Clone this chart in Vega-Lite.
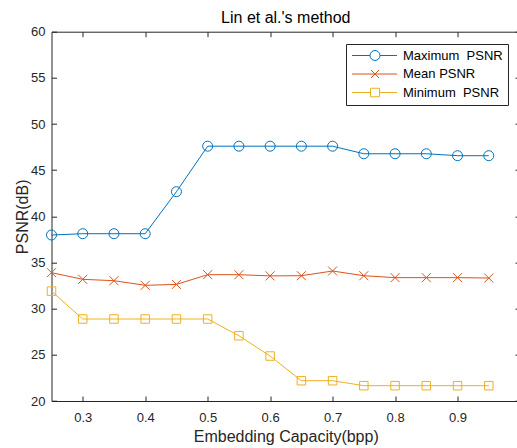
{
  "$schema": "https://vega.github.io/schema/vega-lite/v6.json",
  "autosize": "none",
  "width": 468.5,
  "height": 369.3,
  "padding": {"left": 51.5, "top": 31.7, "right": -3, "bottom": 47},
  "background": "white",
  "title": {"text": "Lin et al.'s method", "font": "Liberation Sans", "fontSize": 16, "fontWeight": "normal", "color": "#000000", "anchor": "middle", "frame": "group", "baseline": "alphabetic", "offset": 7.5, "dy": 21},
  "config": {
    "view": {"stroke": null},
    "axis": {"grid": false, "domainColor": "#262626", "domainWidth": 1, "tickColor": "#262626", "tickWidth": 1, "tickSize": -5, "labelColor": "#262626", "labelFont": "Liberation Sans", "labelFontSize": 13, "titleFont": "Liberation Sans", "titleFontSize": 16, "titleFontWeight": "normal", "titleColor": "#262626"}
  },
  "data": {"values": [
    {"x": 0.25, "s": "Maximum\u00a0 PSNR", "v": 37.98},
    {"x": 0.30, "s": "Maximum\u00a0 PSNR", "v": 38.12},
    {"x": 0.35, "s": "Maximum\u00a0 PSNR", "v": 38.12},
    {"x": 0.40, "s": "Maximum\u00a0 PSNR", "v": 38.12},
    {"x": 0.45, "s": "Maximum\u00a0 PSNR", "v": 42.67},
    {"x": 0.50, "s": "Maximum\u00a0 PSNR", "v": 47.6},
    {"x": 0.55, "s": "Maximum\u00a0 PSNR", "v": 47.6},
    {"x": 0.60, "s": "Maximum\u00a0 PSNR", "v": 47.6},
    {"x": 0.65, "s": "Maximum\u00a0 PSNR", "v": 47.6},
    {"x": 0.70, "s": "Maximum\u00a0 PSNR", "v": 47.6},
    {"x": 0.75, "s": "Maximum\u00a0 PSNR", "v": 46.78},
    {"x": 0.80, "s": "Maximum\u00a0 PSNR", "v": 46.78},
    {"x": 0.85, "s": "Maximum\u00a0 PSNR", "v": 46.78},
    {"x": 0.90, "s": "Maximum\u00a0 PSNR", "v": 46.57},
    {"x": 0.95, "s": "Maximum\u00a0 PSNR", "v": 46.57},
    {"x": 0.25, "s": "Mean PSNR", "v": 33.9},
    {"x": 0.30, "s": "Mean PSNR", "v": 33.18},
    {"x": 0.35, "s": "Mean PSNR", "v": 33.03},
    {"x": 0.40, "s": "Mean PSNR", "v": 32.53},
    {"x": 0.45, "s": "Mean PSNR", "v": 32.63},
    {"x": 0.50, "s": "Mean PSNR", "v": 33.68},
    {"x": 0.55, "s": "Mean PSNR", "v": 33.68},
    {"x": 0.60, "s": "Mean PSNR", "v": 33.55},
    {"x": 0.65, "s": "Mean PSNR", "v": 33.57},
    {"x": 0.70, "s": "Mean PSNR", "v": 34.08},
    {"x": 0.75, "s": "Mean PSNR", "v": 33.57},
    {"x": 0.80, "s": "Mean PSNR", "v": 33.36},
    {"x": 0.85, "s": "Mean PSNR", "v": 33.36},
    {"x": 0.90, "s": "Mean PSNR", "v": 33.36},
    {"x": 0.95, "s": "Mean PSNR", "v": 33.32},
    {"x": 0.25, "s": "Minimum\u00a0 PSNR", "v": 31.9},
    {"x": 0.30, "s": "Minimum\u00a0 PSNR", "v": 28.88},
    {"x": 0.35, "s": "Minimum\u00a0 PSNR", "v": 28.88},
    {"x": 0.40, "s": "Minimum\u00a0 PSNR", "v": 28.88},
    {"x": 0.45, "s": "Minimum\u00a0 PSNR", "v": 28.88},
    {"x": 0.50, "s": "Minimum\u00a0 PSNR", "v": 28.88},
    {"x": 0.55, "s": "Minimum\u00a0 PSNR", "v": 27.07},
    {"x": 0.60, "s": "Minimum\u00a0 PSNR", "v": 24.87},
    {"x": 0.65, "s": "Minimum\u00a0 PSNR", "v": 22.2},
    {"x": 0.70, "s": "Minimum\u00a0 PSNR", "v": 22.2},
    {"x": 0.75, "s": "Minimum\u00a0 PSNR", "v": 21.66},
    {"x": 0.80, "s": "Minimum\u00a0 PSNR", "v": 21.66},
    {"x": 0.85, "s": "Minimum\u00a0 PSNR", "v": 21.66},
    {"x": 0.90, "s": "Minimum\u00a0 PSNR", "v": 21.66},
    {"x": 0.95, "s": "Minimum\u00a0 PSNR", "v": 21.66}
  ]},
  "resolve": {"axis": {"x": "independent", "y": "independent"}},
  "layer": [
    {
      "mark": {"type": "line", "strokeWidth": 1, "clip": false},
      "encoding": {
        "x": {"field": "x", "type": "quantitative", "scale": {"domain": [0.25, 1.0], "nice": false, "zero": false},
              "axis": {"orient": "bottom", "title": "Embedding Capacity(bpp)", "values": [0.3, 0.4, 0.5, 0.6, 0.7, 0.8, 0.9], "format": ".1f", "labelPadding": 15.5, "titlePadding": 4, "labelFlush": false}},
        "y": {"field": "v", "type": "quantitative", "scale": {"domain": [20, 60], "nice": false, "zero": false},
              "axis": {"orient": "left", "title": "PSNR(dB)", "values": [20, 25, 30, 35, 40, 45, 50, 55, 60], "format": "d", "labelPadding": 11.5, "titlePadding": 0, "labelFlush": false}},
        "color": {"field": "s", "type": "nominal",
                  "scale": {"domain": ["Maximum\u00a0 PSNR", "Mean PSNR", "Minimum\u00a0 PSNR"], "range": ["#0072BD", "#D95319", "#EDB120"]}},
        "detail": {"field": "s"}
      }
    },
    {
      "transform": [{"filter": {"field": "s", "equal": "Maximum\u00a0 PSNR"}}],
      "mark": {"type": "point", "shape": "circle", "filled": false, "strokeWidth": 1, "size": 100, "opacity": 1, "clip": false},
      "encoding": {
        "x": {"field": "x", "type": "quantitative", "axis": null},
        "y": {"field": "v", "type": "quantitative", "axis": null},
        "color": {"field": "s", "type": "nominal"}
      }
    },
    {
      "transform": [{"filter": {"field": "s", "equal": "Mean PSNR"}}],
      "mark": {"type": "point", "shape": "M-0.9,-0.9L0.9,0.9M0.9,-0.9L-0.9,0.9", "filled": false, "strokeWidth": 1, "size": 100, "opacity": 1, "clip": false},
      "encoding": {
        "x": {"field": "x", "type": "quantitative", "axis": null},
        "y": {"field": "v", "type": "quantitative", "axis": null},
        "color": {"field": "s", "type": "nominal"}
      }
    },
    {
      "transform": [{"filter": {"field": "s", "equal": "Minimum\u00a0 PSNR"}}],
      "mark": {"type": "point", "shape": "M-0.85,-0.85H0.85V0.85H-0.85Z", "filled": false, "strokeWidth": 1, "size": 100, "opacity": 1, "clip": false},
      "encoding": {
        "x": {"field": "x", "type": "quantitative", "axis": null},
        "y": {"field": "v", "type": "quantitative", "axis": null},
        "color": {"field": "s", "type": "nominal"}
      }
    },
    {
      "transform": [{"filter": "datum.x > 5"}],
      "mark": {"type": "point", "filled": false, "strokeWidth": 1, "size": 100, "clip": false},
      "encoding": {
        "x": {"field": "x", "type": "quantitative",
              "axis": {"orient": "top", "title": null, "labels": false, "values": [0.3, 0.4, 0.5, 0.6, 0.7, 0.8, 0.9, 1.0]}},
        "y": {"field": "v", "type": "quantitative",
              "axis": {"orient": "right", "title": null, "labels": false, "values": [20, 25, 30, 35, 40, 45, 50, 55, 60]}},
        "color": {"field": "s", "type": "nominal",
                  "legend": {"orient": "none", "legendX": 294.5, "legendY": 12.3, "title": null, "padding": 5, "symbolSize": 100, "symbolStrokeWidth": 1, "labelOffset": 39, "rowPadding": 4.5, "labelFont": "Liberation Sans", "labelFontSize": 13, "labelColor": "#000000", "fillColor": "white", "strokeColor": "#262626"}},
        "shape": {"field": "s", "type": "nominal",
                  "scale": {"domain": ["Maximum\u00a0 PSNR", "Mean PSNR", "Minimum\u00a0 PSNR"], "range": ["M-1.1,0H2.5M4.5,0H7.9M2.5,0A1,1,0,1,1,4.5,0A1,1,0,1,1,2.5,0", "M-1.1,0H7.9M2.7,-0.8L4.3,0.8M4.3,-0.8L2.7,0.8", "M-1.1,0H2.6M4.4,0H7.9M2.6,-0.85H4.4V0.85H2.6Z"]},
                  "legend": {"orient": "none", "legendX": 294.5, "legendY": 12.3, "title": null, "padding": 5, "symbolSize": 100, "symbolStrokeWidth": 1, "labelOffset": 39, "rowPadding": 4.5, "labelFont": "Liberation Sans", "labelFontSize": 13, "labelColor": "#000000", "fillColor": "white", "strokeColor": "#262626"}}
      }
    }
  ]
}
